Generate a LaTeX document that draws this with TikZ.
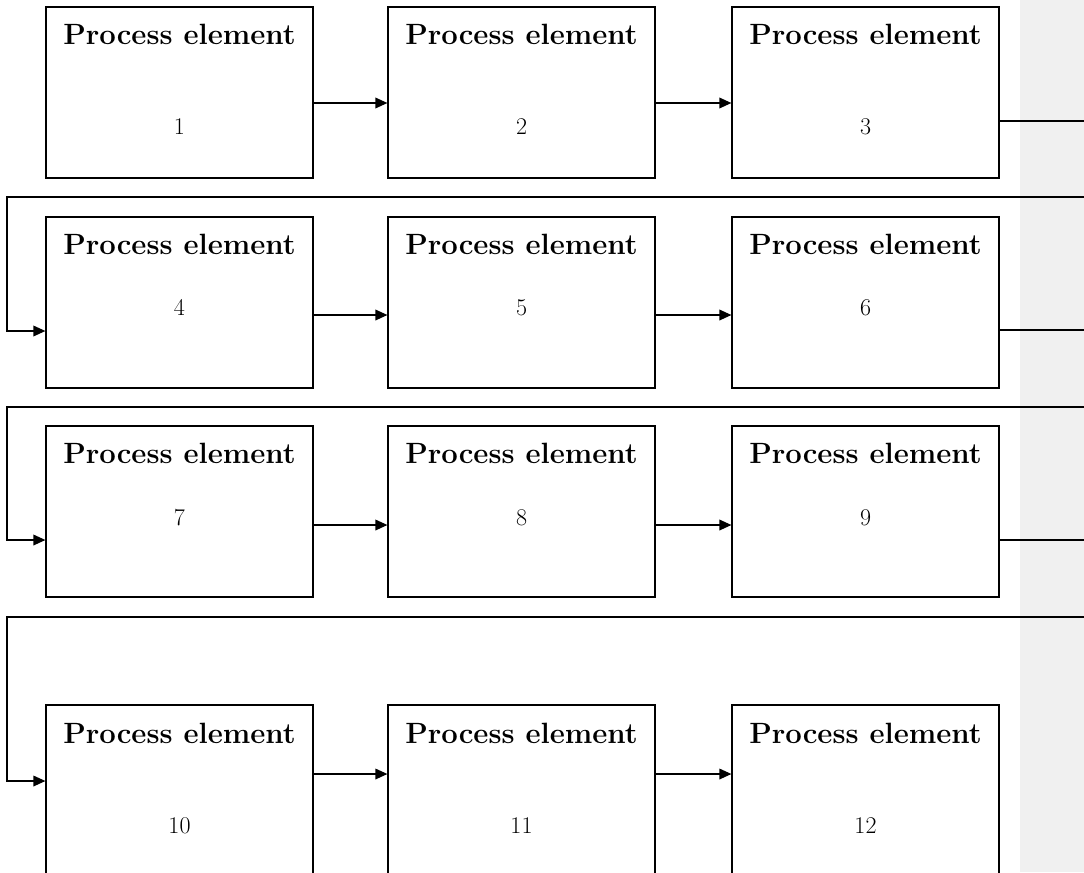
\documentclass[tikz,border=0pt]{standalone}
\usetikzlibrary{arrows.meta}
\definecolor{margingrey}{RGB}{240,240,240}
\tikzset{
  pbox/.style={draw, line width=0.9pt, minimum width=200.25pt, minimum height=128.25pt, inner sep=0pt},
  ptitle/.style={font=\fontsize{22}{26}\selectfont\bfseries, anchor=base, inner sep=0pt},
  pnum/.style={font=\fontsize{18}{22}\selectfont, anchor=base, inner sep=0pt},
  flow/.style={line width=1pt, -{Triangle[length=9pt,width=8pt]}}
}
\begin{document}
\begin{tikzpicture}[x=0.75pt,y=-0.75pt]
  \useasboundingbox (0,0) rectangle (1084,872);
  \clip (0,0) rectangle (1084,872);
  \fill[margingrey] (1020,0) rectangle (1084,872);
  \draw
    (179.5,92.5) node[pbox] (p1){}
    (521.5,92.5) node[pbox] (p2){}
    (865.5,92.5) node[pbox] (p3){}
    (179.5,302.5) node[pbox] (p4){}
    (521.5,302.5) node[pbox] (p5){}
    (865.5,302.5) node[pbox] (p6){}
    (179.5,511.5) node[pbox] (p7){}
    (521.5,511.5) node[pbox] (p8){}
    (865.5,511.5) node[pbox] (p9){}
    (179.5,790.5) node[pbox] (p10){}
    (521.5,790.5) node[pbox] (p11){}
    (865.5,790.5) node[pbox] (p12){};
  \draw
    (179.5,44) node[ptitle] (t1){Process element}
    (521.5,44) node[ptitle] (t2){Process element}
    (865.5,44) node[ptitle] (t3){Process element}
    (179.5,254) node[ptitle] (t4){Process element}
    (521.5,254) node[ptitle] (t5){Process element}
    (865.5,254) node[ptitle] (t6){Process element}
    (179.5,463) node[ptitle] (t7){Process element}
    (521.5,463) node[ptitle] (t8){Process element}
    (865.5,463) node[ptitle] (t9){Process element}
    (179.5,743) node[ptitle] (t10){Process element}
    (521.5,743) node[ptitle] (t11){Process element}
    (865.5,743) node[ptitle] (t12){Process element};
  \draw
    (179.5,134) node[pnum] (n1){1}
    (521.5,134) node[pnum] (n2){2}
    (865.5,134) node[pnum] (n3){3}
    (179.5,315) node[pnum] (n4){4}
    (521.5,315) node[pnum] (n5){5}
    (865.5,315) node[pnum] (n6){6}
    (179.5,525) node[pnum] (n7){7}
    (521.5,525) node[pnum] (n8){8}
    (865.5,525) node[pnum] (n9){9}
    (179.5,833) node[pnum] (n10){10}
    (521.5,833) node[pnum] (n11){11}
    (865.5,833) node[pnum] (n12){12};
  \begin{scope}[flow]
    \draw (p1.east |- 0,103) to (p2.west |- 0,103);
    \draw (p2.east |- 0,103) to (p3.west |- 0,103);
    \draw (p4.east |- 0,315) to (p5.west |- 0,315);
    \draw (p5.east |- 0,315) to (p6.west |- 0,315);
    \draw (p7.east |- 0,525) to (p8.west |- 0,525);
    \draw (p8.east |- 0,525) to (p9.west |- 0,525);
    \draw (p10.east |- 0,774) to (p11.west |- 0,774);
    \draw (p11.east |- 0,774) to (p12.west |- 0,774);
    % wrap from the end of one row to the start of the next
    \draw (p3.east |- 0,121) -- (1100,121) -- (1100,197) -- (7,197) -- (7,331) -- (p4.west |- 0,331);
    \draw (p6.east |- 0,330) -- (1100,330) -- (1100,407) -- (7,407) -- (7,540) -- (p7.west |- 0,540);
    \draw (p9.east |- 0,540) -- (1100,540) -- (1100,617) -- (7,617) -- (7,781) -- (p10.west |- 0,781);
  \end{scope}
\end{tikzpicture}
\end{document}
